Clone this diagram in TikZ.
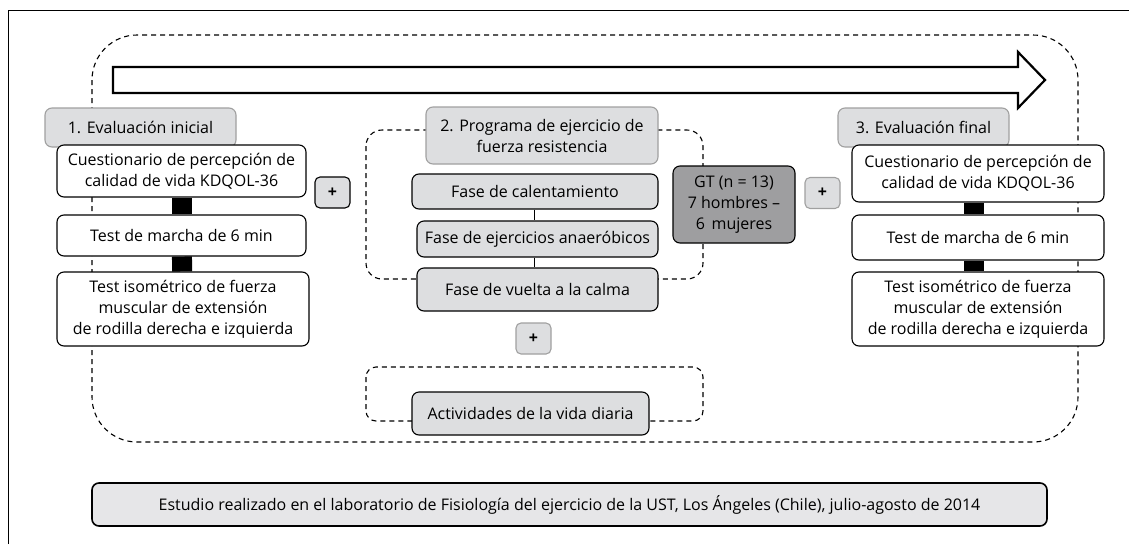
\documentclass[tikz,border=0pt]{standalone}
\usepackage{fontspec}
\setmainfont{Open Sans}
\usetikzlibrary{positioning}
\definecolor{boxgray}{RGB}{221,222,224}
\definecolor{boxline}{RGB}{160,160,160}
\definecolor{gtgray}{RGB}{158,158,160}
\definecolor{notegray}{RGB}{230,230,232}
\tikzset{
box/.style={draw, rounded corners=7pt, line width=1.1pt, fill=white,
	align=center, inner sep=0pt},
titlebox/.style={box, draw=boxline, fill=boxgray},
phase/.style={box, fill=boxgray},
plusbox/.style={box, fill=boxgray, minimum width=35pt, minimum height=31pt,
	rounded corners=5pt, font=\fontsize{16}{21}\selectfont\bfseries},
group/.style={draw, dash pattern=on 5pt off 4pt, line width=1.1pt},
bar/.style={line width=20pt}
}

\begin{document}
\begin{tikzpicture}[x=1pt, y=-1pt, font=\fontsize{16}{21}\selectfont]
	\useasboundingbox (0,0) rectangle (1129,544);
	\draw[line width=1pt] (8,544) -- (8,10) -- (1129,10);
	\draw[group, rounded corners=45pt] (92,35) rectangle (1078,442);
	\draw[group, rounded corners=16pt] (366,130) rectangle (703,279);
	\draw[group, rounded corners=10pt] (366,367) rectangle (703,421);
	\draw[line width=2.2pt] (113,67) -- (1018,67) -- (1018,52) -- (1045,80)
		-- (1018,108) -- (1018,93) -- (113,93) -- cycle;

	\node[titlebox, minimum width=191pt, minimum height=39pt] (ev1) at (140.5,127.5) {1. Evaluación inicial};
	\node[box, minimum width=249pt, minimum height=52pt] (cq1) at (181.5,171) {Cuestionario de percepción de\\calidad de vida KDQOL-36};
	\node[box, minimum width=249pt, minimum height=41pt] (tm1) at (181.5,235.5) {Test de marcha de 6 min};
	\node[box, minimum width=252pt, minimum height=74pt] (ti1) at (183,309) {Test isométrico de fuerza\\muscular de extensión\\de rodilla derecha e izquierda};
	\draw[bar] (cq1) -- (tm1);
	\draw[bar] (tm1) -- (ti1);
	\node[plusbox] (p1) at (332.5,192.5) {+};

	\node[titlebox, minimum width=232pt, minimum height=57pt] (prog) at (542,135.5) {2. Programa de ejercicio de\\fuerza resistencia};
	\node[phase, minimum width=246pt, minimum height=35pt] (fc) at (535,191.5) {Fase de calentamiento};
	\node[phase, minimum width=241pt, minimum height=36pt] (fe) at (537.5,239) {Fase de ejercicios anaeróbicos};
	\node[phase, minimum width=241pt, minimum height=43pt] (fv) at (537.5,289.5) {Fase de vuelta a la calma};
	\draw[line width=1pt] (fc.south -| 534,0) -- (fe.north -| 534,0);
	\draw[line width=1pt] (fe.south -| 534,0) -- (fv.north -| 534,0);
	\node[box, fill=gtgray, minimum width=122pt, minimum height=77pt] (gt) at (734,204.5) {GT (n = 13)\\7 hombres –\\6\, mujeres};
	\node[plusbox, draw=boxline] (p2) at (533.5,338.5) {+};
	\node[phase, minimum width=237pt, minimum height=43pt] (act) at (530.5,413.5) {Actividades de la vida diaria};

	\node[plusbox, draw=boxline] (p3) at (822.5,193) {+};
	\node[titlebox, minimum width=171pt, minimum height=39pt] (ev3) at (923.5,127.5) {3. Evaluación final};
	\node[box, minimum width=252pt, minimum height=57pt] (cq3) at (978,173.5) {Cuestionario de percepción de\\calidad de vida KDQOL-36};
	\node[box, minimum width=252pt, minimum height=45pt] (tm3) at (978,237.5) {Test de marcha de 6 min};
	\node[box, minimum width=252pt, minimum height=74pt] (ti3) at (978,309) {Test isométrico de fuerza\\muscular de extensión\\de rodilla derecha e izquierda};
	\draw[bar] (cq3.south -| 973.5,0) -- (tm3.north -| 973.5,0);
	\draw[bar] (tm3.south -| 973.5,0) -- (ti3.north -| 973.5,0);

	\node[box, line width=1.6pt, fill=notegray, minimum width=955pt, minimum height=43pt] (note) at (569.5,504.5) {Estudio realizado en el laboratorio de Fisiología del ejercicio de la UST, Los Ángeles (Chile), julio-agosto de 2014};
\end{tikzpicture}
\end{document}
